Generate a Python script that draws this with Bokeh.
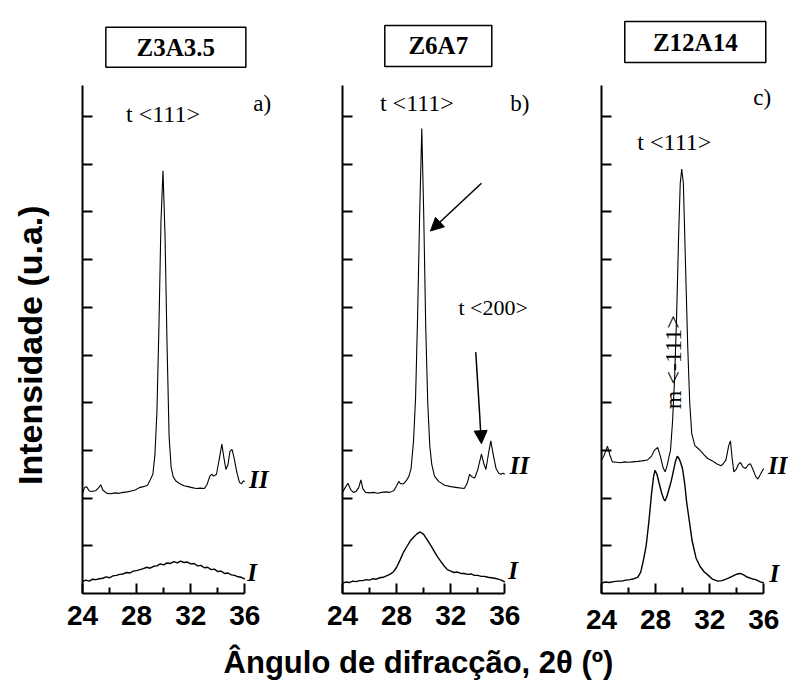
from math import pi

from bokeh.core.properties import value
from bokeh.embed import file_html
from bokeh.layouts import column, row
from bokeh.models import Arrow, FixedTicker, NormalHead, Range1d
from bokeh.plotting import figure
from bokeh.resources import INLINE

# ---------------------------------------------------------------- data
x_major = [24, 28, 32, 36]
x_minor = [26, 30, 34]
y_ticks = [1, 2, 3, 4, 5, 6, 7, 8, 9, 10]

samples = ["Z3A3.5", "Z6A7", "Z12A14"]
panel_tags = ["a)", "b)", "c)"]

# common 2θ grid for the broad (amorphous) patterns
grid_x = [24.0, 24.25, 24.5, 24.75, 25.0, 25.25, 25.5, 25.75, 26.0, 26.25,
          26.5, 26.75, 27.0, 27.25, 27.5, 27.75, 28.0, 28.25, 28.5, 28.75,
          29.0, 29.25, 29.5, 29.75, 30.0, 30.25, 30.5, 30.75, 31.0, 31.25,
          31.5, 31.75, 32.0, 32.25, 32.5, 32.75, 33.0, 33.25, 33.5, 33.75,
          34.0, 34.25, 34.5, 34.75, 35.0, 35.25, 35.5, 35.75, 36.0]

# Z3A3.5
a_I_y = [0.25, 0.28, 0.26, 0.30, 0.29, 0.31, 0.32, 0.35, 0.33, 0.37,
         0.38, 0.40, 0.41, 0.44, 0.43, 0.47, 0.48, 0.50, 0.52, 0.55,
         0.53, 0.57, 0.58, 0.62, 0.60, 0.64, 0.63, 0.67, 0.64, 0.68,
         0.65, 0.66, 0.62, 0.63, 0.58, 0.59, 0.54, 0.55, 0.50, 0.51,
         0.46, 0.47, 0.42, 0.43, 0.39, 0.38, 0.35, 0.34, 0.30]
a_II_x = [24.0, 24.15, 24.3, 24.5, 24.7, 25.0, 25.2, 25.35, 25.5, 25.8,
          26.1, 26.4, 26.7, 27.0, 27.3, 27.6, 27.9, 28.2, 28.5, 28.8,
          29.0, 29.2, 29.35, 29.5, 29.65, 29.8, 29.95, 30.1, 30.25, 30.4,
          30.55, 30.7, 30.9, 31.2, 31.5, 31.8, 32.1, 32.4, 32.7, 33.0,
          33.2, 33.4, 33.55, 33.7, 33.9, 34.1, 34.3, 34.45, 34.6, 34.75,
          34.9, 35.05, 35.2, 35.4, 35.6, 35.75, 35.9, 36.0]
a_II_y = [2.10, 2.22, 2.24, 2.15, 2.14, 2.16, 2.22, 2.28, 2.17, 2.10,
          2.09, 2.11, 2.10, 2.12, 2.13, 2.15, 2.17, 2.22, 2.24, 2.27,
          2.38, 2.50, 2.90, 3.80, 5.60, 7.80, 8.86, 7.50, 5.20, 3.30,
          2.65, 2.45, 2.36, 2.30, 2.26, 2.24, 2.22, 2.20, 2.21, 2.20,
          2.28, 2.45, 2.50, 2.46, 2.50, 2.80, 3.13, 2.85, 2.60, 2.70,
          2.98, 3.02, 2.85, 2.55, 2.33, 2.30, 2.36, 2.35]

# Z6A7
b_I_y = [0.22, 0.24, 0.23, 0.26, 0.25, 0.27, 0.27, 0.29, 0.28, 0.31,
         0.30, 0.33, 0.34, 0.37, 0.40, 0.45, 0.55, 0.70, 0.86, 0.98,
         1.10, 1.18, 1.25, 1.29, 1.24, 1.13, 1.02, 0.90, 0.78, 0.68,
         0.58, 0.50, 0.47, 0.44, 0.45, 0.42, 0.42, 0.40, 0.41, 0.38,
         0.38, 0.36, 0.36, 0.34, 0.33, 0.32, 0.30, 0.28, 0.24]
b_II_x = [24.0, 24.2, 24.4, 24.6, 24.8, 25.0, 25.2, 25.36, 25.5, 25.7,
          26.0, 26.3, 26.6, 26.9, 27.2, 27.5, 27.8, 28.0, 28.15, 28.3,
          28.5, 28.7, 28.9, 29.07, 29.25, 29.4, 29.55, 29.7, 29.86, 30.0,
          30.15, 30.3, 30.45, 30.6, 30.8, 31.1, 31.55, 32.0, 32.5, 33.0,
          33.2, 33.4, 33.55, 33.77, 34.0, 34.27, 34.45, 34.6, 34.8, 34.96,
          35.15, 35.35, 35.55, 35.7, 35.85, 36.0]
b_II_y = [2.12, 2.22, 2.31, 2.18, 2.12, 2.14, 2.22, 2.38, 2.20, 2.12,
          2.11, 2.12, 2.10, 2.12, 2.13, 2.12, 2.16, 2.26, 2.35, 2.30,
          2.30, 2.36, 2.45, 2.62, 3.20, 4.10, 5.80, 7.90, 9.75, 8.00,
          5.60, 4.00, 3.10, 2.70, 2.46, 2.35, 2.27, 2.24, 2.22, 2.20,
          2.30, 2.50, 2.45, 2.42, 2.60, 2.92, 2.72, 2.60, 2.95, 3.20,
          2.90, 2.62, 2.52, 2.50, 2.52, 2.50]

# Z12A14
c_I_x = [24.0, 24.3, 24.6, 24.9, 25.2, 25.5, 25.8, 26.1, 26.4, 26.67,
         26.9, 27.1, 27.3, 27.5, 27.7, 27.85, 27.95, 28.1, 28.27, 28.45,
         28.6, 28.7, 28.85, 29.0, 29.15, 29.3, 29.45, 29.6, 29.75, 29.9,
         30.0, 30.15, 30.3, 30.5, 30.7, 30.99, 31.3, 31.6, 31.9, 32.2,
         32.6, 32.9, 33.2, 33.5, 33.8, 34.05, 34.27, 34.5, 34.8, 35.1,
         35.4, 35.7, 36.0]
c_I_y = [0.22, 0.24, 0.23, 0.25, 0.26, 0.26, 0.28, 0.29, 0.31, 0.34,
         0.45, 0.70, 1.00, 1.50, 2.10, 2.45, 2.58, 2.50, 2.30, 2.10,
         1.98, 1.94, 2.05, 2.20, 2.35, 2.55, 2.75, 2.88, 2.82, 2.70,
         2.60, 2.30, 1.90, 1.50, 1.10, 0.74, 0.56, 0.45, 0.38, 0.30,
         0.26, 0.27, 0.30, 0.34, 0.38, 0.41, 0.42, 0.39, 0.34, 0.31,
         0.29, 0.25, 0.22]
c_II_x = [24.0, 24.2, 24.44, 24.6, 24.8, 25.1, 25.4, 25.7, 26.0, 26.3,
          26.7, 27.0, 27.4, 27.7, 27.9, 28.15, 28.35, 28.55, 28.7, 28.85,
          29.0, 29.1, 29.25, 29.4, 29.55, 29.7, 29.82, 29.93, 30.05, 30.2,
          30.37, 30.52, 30.67, 30.9, 31.1, 31.36, 31.6, 31.85, 32.2, 32.5,
          32.84, 33.0, 33.2, 33.4, 33.53, 33.65, 33.78, 33.95, 34.1, 34.27,
          34.45, 34.65, 34.85, 35.0, 35.2, 35.4, 35.56, 35.75, 35.9, 36.0]
c_II_y = [2.80, 2.90, 3.09, 2.92, 2.76, 2.75, 2.74, 2.76, 2.75, 2.76,
          2.77, 2.78, 2.80, 2.88, 3.00, 3.06, 2.88, 2.64, 2.55, 2.68,
          2.88, 3.00, 3.60, 4.50, 5.80, 7.50, 8.60, 8.90, 8.60, 7.00,
          5.20, 4.00, 3.35, 3.10, 3.05, 2.98, 2.90, 2.83, 2.78, 2.72,
          2.68, 2.72, 2.80, 3.10, 3.20, 2.85, 2.55, 2.60, 2.70, 2.75,
          2.65, 2.62, 2.70, 2.72, 2.60, 2.45, 2.40, 2.50, 2.58, 2.62]

# ---------------------------------------------------------------- layout
ROW_H = 640          # height of the row holding the three panels
AXIS_Y = 593         # pixel row of the 2θ axis line
PX_PER_DEG = 13.53   # horizontal scale (px per degree)
PX_PER_UNIT = 47.7   # vertical scale (px per intensity tick)
Y_AXIS_TOP = 10.65

SANS = "Liberation Sans"
SERIF = "Liberation Serif"


def make_panel(fig_w, left_border, label_standoff=12):
    frame_w = fig_w - left_border
    p = figure(width=fig_w, height=ROW_H,
               x_range=Range1d(24, 24 + frame_w / PX_PER_DEG),
               y_range=Range1d(0, AXIS_Y / PX_PER_UNIT),
               min_border_left=left_border, min_border_right=0,
               min_border_top=0, min_border_bottom=ROW_H - AXIS_Y,
               output_backend="svg", toolbar_location=None,
               outline_line_color=None, background_fill_color="white",
               border_fill_color="white")
    p.xgrid.visible = False
    p.ygrid.visible = False

    xa = p.xaxis[0]
    xa.ticker = FixedTicker(ticks=x_major, minor_ticks=x_minor)
    xa.bounds = (24, 36)
    xa.axis_line_width = 2
    xa.major_tick_line_width = 2
    xa.minor_tick_line_width = 2
    xa.major_tick_in = 10
    xa.major_tick_out = 0
    xa.minor_tick_in = 6
    xa.minor_tick_out = 0
    xa.major_label_standoff = label_standoff
    xa.major_label_text_font = SANS
    xa.major_label_text_font_style = "bold"
    xa.major_label_text_font_size = "28px"
    xa.major_label_text_color = "black"

    # intensity axis: ticks only, no numbers
    ya = p.yaxis[0]
    ya.ticker = FixedTicker(ticks=y_ticks)
    ya.bounds = (0, Y_AXIS_TOP)
    ya.axis_line_width = 2
    ya.major_tick_line_width = 2
    ya.major_tick_in = 10
    ya.major_tick_out = 0
    ya.minor_tick_line_color = None
    ya.major_label_text_color = None
    ya.major_label_text_font_size = "8px"
    ya.major_label_standoff = 0
    return p


def add_text(p, x, y, text, size, font=SERIF, style="normal", align="center",
             angle=0.0):
    p.text(x=[x], y=[y], text=[text], angle=angle,
           text_font=value(font), text_font_size=value(size),
           text_font_style=style, text_align=align,
           text_baseline="middle", text_color="black")


def add_sample_box(p, x, y, w, h, name):
    p.rect(x=[x], y=[y], width=[w], height=[h], width_units="screen",
           height_units="screen", fill_color=None, line_color="black",
           line_width=1.5)
    add_text(p, x, y, name, "25px", style="bold")


def add_curves(p, xs_I, ys_I, xs_II, ys_II):
    p.line(xs_I, ys_I, line_color="black", line_width=1.4)
    p.line(xs_II, ys_II, line_color="black", line_width=1.1)


# panel a
pa = make_panel(244, 26)
add_curves(pa, grid_x, a_I_y, a_II_x, a_II_y)
add_sample_box(pa, 30.9, 11.45, 140, 40, samples[0])
add_text(pa, 29.95, 10.06, "t <111>", "24px")
add_text(pa, 37.28, 10.28, panel_tags[0], "23px")
add_text(pa, 36.3, 2.38, "II", "25px", style="bold italic", align="left")
add_text(pa, 36.17, 0.45, "I", "25px", style="bold italic", align="left")

# panel b
pb = make_panel(260, 42)
add_curves(pb, grid_x, b_I_y, b_II_x, b_II_y)
add_sample_box(pb, 31.08, 11.48, 107, 41, samples[1])
add_text(pb, 29.5, 10.28, "t <111>", "24px")
add_text(pb, 37.1, 10.28, panel_tags[1], "23px")
add_text(pb, 35.13, 5.99, "t <200>", "22px")
add_text(pb, 36.37, 2.68, "II", "25px", style="bold italic", align="left")
add_text(pb, 36.25, 0.48, "I", "25px", style="bold italic", align="left")
for xs, ys, xe, ye in [(34.27, 8.6, 30.5, 7.6), (33.85, 5.06, 34.27, 3.14)]:
    pb.add_layout(Arrow(end=NormalHead(size=13, fill_color="black",
                                       line_color="black"),
                        x_start=xs, y_start=ys, x_end=xe, y_end=ye,
                        line_color="black", line_width=1.5))

# panel c
pc = make_panel(228, 41, label_standoff=16)
add_curves(pc, c_I_x, c_I_y, c_II_x, c_II_y)
add_sample_box(pc, 30.93, 11.56, 141, 41, samples[2])
add_text(pc, 29.38, 9.47, "t <111>", "24px")
add_text(pc, 35.88, 10.39, panel_tags[2], "23px")
add_text(pc, 29.3, 4.85, "m <-111>", "24px", angle=pi / 2)
add_text(pc, 36.3, 2.68, "II", "25px", style="bold italic", align="left")
add_text(pc, 36.42, 0.41, "I", "25px", style="bold italic", align="left")


def blank(w, h):
    f = figure(width=w, height=h, x_range=Range1d(0, w), y_range=Range1d(0, h),
               min_border=0, output_backend="svg", toolbar_location=None,
               outline_line_color=None)
    f.axis.visible = False
    f.grid.visible = False
    return f


# vertical intensity title
fy = blank(56, ROW_H)
add_text(fy, 29, ROW_H - 372, "Intensidade (u.a.)", "34px", font=SANS,
         style="bold", angle=pi / 2)

# 2θ title under the panels
fx = blank(788, 680 - ROW_H)
add_text(fx, 418, 18, "Ângulo de difracção, 2θ (º)", "31px", font=SANS,
         style="bold")

layout = column(row(fy, pa, pb, pc), fx)
open("out.html", "w").write(file_html(layout, INLINE))
